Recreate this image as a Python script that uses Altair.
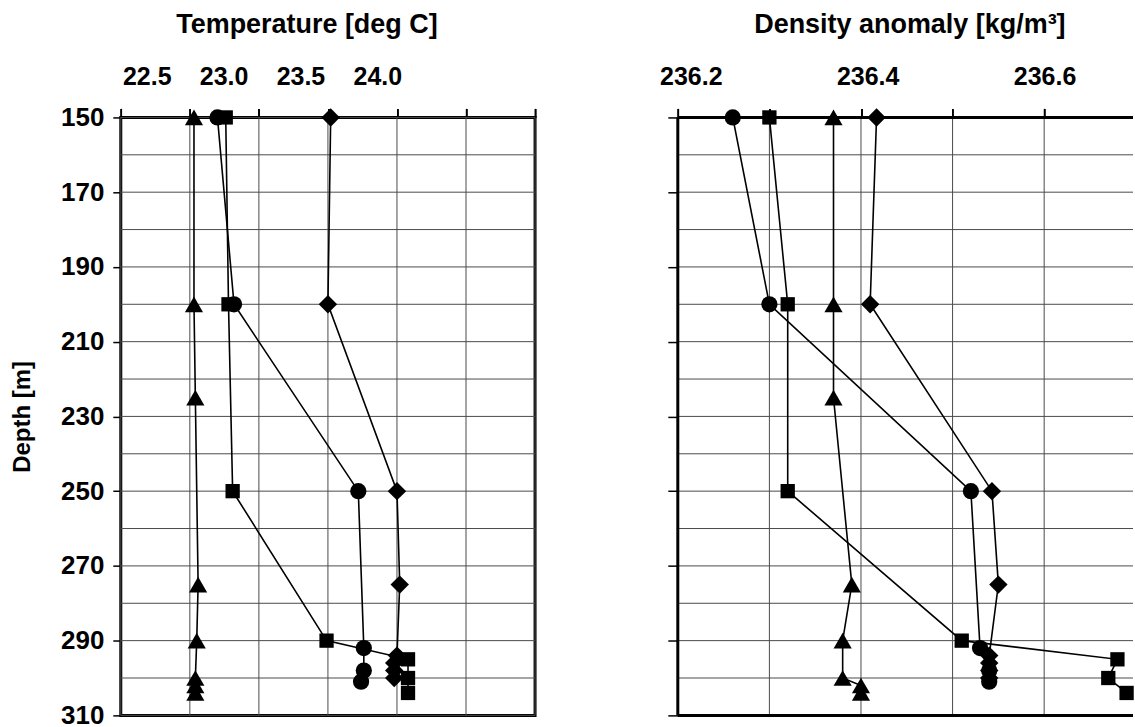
import altair as alt
import pandas as pd

# ---------------- data ----------------
SERIES = ["circle", "square", "triangle", "diamond"]

# Temperature panel
t_circle_depth = [150, 200, 250, 292, 298, 301]
t_circle_val = [22.85, 22.91, 23.36, 23.38, 23.38, 23.37]
t_square_depth = [150, 200, 250, 290, 295, 300, 304]
t_square_val = [22.88, 22.89, 22.905, 23.245, 23.54, 23.54, 23.54]
t_triangle_depth = [150, 200, 225, 275, 290, 300, 302, 304]
t_triangle_val = [22.765, 22.765, 22.77, 22.78, 22.775, 22.77, 22.77, 22.77]
t_diamond_depth = [150, 200, 250, 275, 294, 296, 298, 300]
t_diamond_val = [23.26, 23.25, 23.50, 23.51, 23.50, 23.49, 23.49, 23.49]

# Density anomaly panel
d_circle_depth = [150, 200, 250, 292, 298, 301]
d_circle_val = [236.26, 236.30, 236.52, 236.53, 236.54, 236.54]
d_square_depth = [150, 200, 250, 290, 295, 300, 304]
d_square_val = [236.30, 236.32, 236.32, 236.51, 236.68, 236.67, 236.69]
d_triangle_depth = [150, 200, 225, 275, 290, 300, 302, 304]
d_triangle_val = [236.37, 236.37, 236.37, 236.39, 236.38, 236.38, 236.40, 236.40]
d_diamond_depth = [150, 200, 250, 275, 294, 296, 298, 300]
d_diamond_val = [236.417, 236.41, 236.543, 236.55, 236.54, 236.54, 236.54, 236.54]

# axes
depth_labels = [150, 170, 190, 210, 230, 250, 270, 290, 310]
depth_grid = [150, 160, 170, 180, 190, 200, 210, 220, 230, 240, 250, 260, 270, 280, 290, 300, 310]
temp_grid = [22.5, 22.75, 23.0, 23.25, 23.5, 23.75, 24.0]
temp_labels = [22.5, 23.0, 23.5, 24.0]
dens_grid = [236.2, 236.3, 236.4, 236.5, 236.6]   # 236.7 lies just past the picture edge
dens_labels = [236.2, 236.4, 236.6]

FONT = "Liberation Sans, Arial, sans-serif"
H = 599


def build_df(parts):
    rows = []
    for name, depths, vals in parts:
        for d, v in zip(depths, vals):
            rows.append({"series": name, "depth": d, "value": v})
    return pd.DataFrame(rows)


def panel(df, x_domain, grid_x, label_domain, label_vals, title, width, height,
          show_y, title_x, frame_rules):
    xs = alt.Scale(domain=x_domain, nice=False, zero=False)
    ys = alt.Scale(domain=[150, 310], nice=False, zero=False, reverse=True)

    x_axis = alt.Axis(orient="top", values=grid_x, labels=False, ticks=True,
                      tickSize=9, tickColor="black", tickWidth=1.5,
                      domain=False, grid=False, title=None)
    if show_y:
        y_axis = alt.Axis(orient="left", values=depth_labels, tickSize=8,
                          tickColor="black", tickWidth=1.5, domain=False,
                          grid=False, labelFont=FONT, labelFontSize=26,
                          labelFontWeight="bold", labelColor="black",
                          labelPadding=9, title="Depth [m]", titleFont=FONT,
                          titleFontSize=24, titleFontWeight="bold",
                          titleColor="black", titlePadding=26)
    else:
        y_axis = alt.Axis(orient="left", values=depth_labels, tickSize=10,
                          tickColor="black", tickWidth=1.5, domain=False,
                          grid=False, labels=False, title=None)

    x_enc = alt.X("value:Q", scale=xs, axis=x_axis)
    y_enc = alt.Y("depth:Q", scale=ys, axis=y_axis)

    hgrid = alt.Chart(pd.DataFrame({"depth": depth_grid})).mark_rule(
        color="#4a4a4a", strokeWidth=1).encode(y=y_enc)
    vgrid = alt.Chart(pd.DataFrame({"value": grid_x})).mark_rule(
        color="#4a4a4a", strokeWidth=1).encode(x=x_enc)

    base = alt.Chart(df)
    lines = base.mark_line(color="black", strokeWidth=1.6).encode(
        x=x_enc, y=y_enc, detail="series:N", order="depth:Q")
    points = base.mark_point(filled=True, color="black", opacity=1).encode(
        x=x_enc, y=y_enc,
        shape=alt.Shape("series:N", scale=alt.Scale(
            type="ordinal", domain=SERIES,
            range=["circle", "square", "triangle-up", "diamond"]),
            legend=None),
        size=alt.Size("series:N", scale=alt.Scale(
            type="ordinal", domain=SERIES, range=[265, 205, 330, 340]),
            legend=None),
    )

    labels = alt.Chart(pd.DataFrame({"lab": label_vals})).mark_point(
        opacity=0).encode(
        x=alt.X("lab:Q", scale=alt.Scale(domain=label_domain, nice=False,
                                          zero=False),
                axis=alt.Axis(orient="top", values=label_vals, format=".1f",
                              ticks=False, domain=False, grid=False,
                              labelFont=FONT, labelFontSize=25,
                              labelFontWeight="bold", labelColor="black",
                              labelPadding=28, labelFlush=False, title=title,
                              titleFont=FONT, titleFontSize=27,
                              titleFontWeight="bold", titleColor="black",
                              titlePadding=26, titleX=title_x)))

    layers = [hgrid, vgrid, lines, points, labels]
    if frame_rules:
        left_b = alt.Chart().mark_rule(color="black", strokeWidth=3).encode(
            x=alt.value(0), y=alt.value(0), y2=alt.value(height))
        top_b = alt.Chart().mark_rule(color="black", strokeWidth=3).encode(
            x=alt.value(0), x2=alt.value(width), y=alt.value(0))
        bot_b = alt.Chart().mark_rule(color="black", strokeWidth=3).encode(
            x=alt.value(0), x2=alt.value(width), y=alt.value(height))
        layers = [hgrid, vgrid, left_b, top_b, bot_b, lines, points, labels]

    layers = [c.properties(width=width, height=height) for c in layers]
    lay = alt.layer(*layers).resolve_scale(x="independent")
    if frame_rules:
        lay = lay.properties(view=alt.ViewBackground(stroke="transparent"))
    else:
        lay = lay.properties(view=alt.ViewBackground(stroke="black",
                                                     strokeWidth=3))
    return lay


temp_df = build_df([
    ("circle", t_circle_depth, t_circle_val),
    ("square", t_square_depth, t_square_val),
    ("triangle", t_triangle_depth, t_triangle_val),
    ("diamond", t_diamond_depth, t_diamond_val),
])
dens_df = build_df([
    ("circle", d_circle_depth, d_circle_val),
    ("square", d_square_depth, d_square_val),
    ("triangle", d_triangle_depth, d_triangle_val),
    ("diamond", d_diamond_depth, d_diamond_val),
])

left = panel(temp_df, [22.5, 24.0], temp_grid, [22.3312, 25.026], temp_labels,
             "Temperature [deg C]", 415, H, True, 186, False)
right = panel(dens_df, [236.2, 236.697], dens_grid, [236.1853, 236.700],
              dens_labels, "Density anomaly [kg/m³]", 456, H, False, 232, True)

chart = alt.hconcat(left, right, spacing=121).properties(
    padding={"left": 9, "top": 8, "right": 0, "bottom": 0},
    background="white",
)

chart.save("out.html", embed_options={"renderer": "svg", "actions": False})
